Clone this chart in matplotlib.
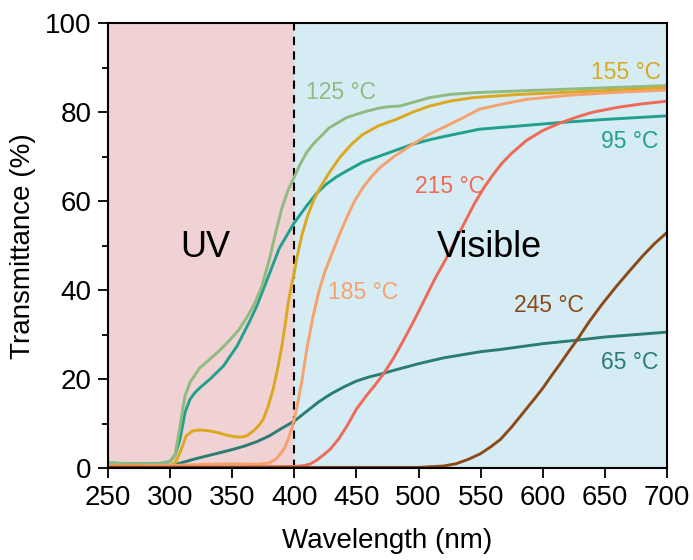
import matplotlib.pyplot as plt
from matplotlib.ticker import MultipleLocator

plt.rcParams['font.family'] = ['Liberation Sans', 'DejaVu Sans']

# 65 °C
wl_65 = [250, 280, 300, 305, 310, 320, 330, 340, 350, 360, 370, 380, 390, 400, 410, 420,
         430, 440, 450, 460, 470, 480, 500, 520, 550, 566, 600, 628, 650, 700]
t_65 = [0.4, 0.4, 0.5, 0.9, 1.3, 2.1, 2.8, 3.5, 4.2, 5.0, 6.0, 7.3, 9.0, 10.6, 12.8, 15.0,
        16.8, 18.3, 19.6, 20.5, 21.2, 22.0, 23.5, 24.8, 26.2, 26.7, 28.0, 28.8, 29.5, 30.6]

# 95 °C
wl_95 = [250, 270, 290, 300, 304, 308, 312, 316, 320, 324, 332, 343, 354, 364, 370, 378, 388,
         400, 410, 418, 426, 434, 442, 455, 469, 480, 495, 510, 523, 549, 580, 614, 650, 700]
t_95 = [1.2, 1.0, 1.0, 1.5, 3.0, 6.5, 12.5, 15.5, 17.0, 18.1, 20.0, 23.0, 27.5, 33.0, 36.6, 42.3, 49.5,
        55.2, 59.0, 61.8, 63.9, 65.5, 66.8, 68.8, 70.2, 71.3, 72.8, 73.9, 74.7, 76.2, 76.9, 77.7, 78.4, 79.2]

# 125 °C
wl_125 = [250, 270, 290, 300, 304, 308, 312, 316, 324, 332, 340, 348, 355, 362, 368, 374, 380, 385,
          390, 395, 400, 405, 410, 415, 428, 442, 455, 469, 478, 485, 495, 509, 525, 544, 580, 620,
          660, 700]
t_125 = [1.2, 1.0, 0.9, 1.5, 3.0, 9.5, 16.2, 19.3, 22.6, 24.5, 26.5, 28.8, 31.0, 34.0, 37.0, 41.0, 47.0,
         53.0, 58.5, 62.5, 65.5, 68.5, 71.0, 72.8, 76.5, 78.8, 80.0, 81.0, 81.3, 81.4, 82.2, 83.3, 84.0,
         84.4, 84.8, 85.2, 85.6, 86.0]

# 155 °C
wl_155 = [250, 280, 300, 304, 308, 313, 318, 324, 332, 340, 346, 352, 357, 362, 367, 372, 375, 379,
          383, 387, 390, 393, 395, 398, 400, 402, 406, 411, 416, 421, 429, 437, 446, 455, 468, 482,
          495, 509, 525, 544, 580, 620, 660, 700]
t_155 = [0.6, 0.6, 0.6, 1.2, 3.5, 7.3, 8.4, 8.6, 8.4, 7.9, 7.4, 7.1, 7.0, 7.3, 8.4, 9.8, 11.0, 14.0,
         17.8, 23.0, 27.5, 33.0, 37.0, 41.5, 44.0, 47.2, 52.3, 57.0, 60.5, 63.2, 66.8, 70.0, 72.8, 75.0,
         77.0, 78.4, 80.0, 81.4, 82.5, 83.3, 84.0, 84.5, 85.0, 85.5]

# 185 °C
wl_185 = [250, 300, 330, 350, 370, 380, 385, 389, 392, 395, 398, 400, 403, 406, 410, 415, 420, 425,
          430, 436, 442, 448, 455, 462, 469, 480, 493, 508, 523, 536, 549, 570, 587, 620, 660, 700]
t_185 = [0.5, 0.6, 0.9, 1.0, 0.9, 1.2, 2.0, 3.3, 4.5, 6.5, 9.0, 11.0, 15.0, 19.5, 26.7, 34.0, 40.0, 44.5,
         48.0, 52.3, 56.2, 59.8, 63.0, 65.5, 67.6, 70.0, 72.4, 75.0, 77.0, 78.8, 80.7, 82.0, 82.9, 83.8,
         84.5, 85.0]

# 215 °C
wl_215 = [250, 350, 400, 408, 413, 418, 423, 429, 436, 443, 450, 458, 465, 472, 480, 488, 496, 505,
          513, 522, 533, 545, 553, 560, 567, 575, 587, 600, 614, 627, 640, 660, 680, 700]
t_215 = [0.3, 0.3, 0.4, 0.6, 1.0, 1.8, 2.9, 4.3, 6.7, 9.8, 13.3, 16.3, 18.7, 21.3, 24.8, 28.8, 33.0, 38.0,
         42.5, 47.0, 53.0, 59.5, 63.2, 66.0, 68.5, 70.8, 73.7, 75.9, 77.6, 78.9, 80.0, 81.1, 81.9, 82.5]

# 245 °C
wl_245 = [250, 450, 500, 520, 530, 540, 550, 558, 566, 575, 584, 593, 600, 607, 614, 621, 628, 637,
          647, 659, 670, 680, 690, 700]
t_245 = [0.2, 0.2, 0.2, 0.5, 1.0, 2.0, 3.3, 4.8, 6.5, 9.3, 12.4, 15.5, 18.0, 20.8, 23.5, 26.3, 29.0, 32.8,
         36.6, 40.8, 44.4, 47.6, 50.5, 53.0]

series = [
    (wl_65, t_65, '#2b7c72', '65 °C', 693, 23.8, 'right'),
    (wl_95, t_95, '#21a08d', '95 °C', 693, 73.5, 'right'),
    (wl_125, t_125, '#8fbb80', '125 °C', 409.5, 84.5, 'left'),
    (wl_155, t_155, '#dba81f', '155 °C', 695, 88.9, 'right'),
    (wl_185, t_185, '#f7a26c', '185 °C', 427.5, 39.5, 'left'),
    (wl_215, t_215, '#ee6a55', '215 °C', 497.5, 63.3, 'left'),
    (wl_245, t_245, '#8c4a16', '245 °C', 576.5, 36.6, 'left'),
]

fig = plt.figure(figsize=(6.93, 5.6), dpi=100)
ax = fig.add_axes([0.1558, 0.1638, 0.8067, 0.7946])

ax.axvspan(250, 400, color='#f0d1d4', lw=0, zorder=0)
ax.axvspan(400, 700, color='#d5ecf5', lw=0, zorder=0)
ax.axvline(400, color='black', ls=(0, (4, 3)), lw=1.5, zorder=1)

for wl, t, c, lab, tx, ty, ha in series:
    ax.plot(wl, t, color=c, lw=2.1, zorder=2, solid_joinstyle='round')
    ax.text(tx, ty, lab, color=c, fontsize=16.5, ha=ha, va='center', zorder=3)

ax.text(328, 49.6, 'UV', fontsize=26, ha='center', va='center')
ax.text(557, 49.6, 'Visible', fontsize=26, ha='center', va='center')

ax.set_xlim(250, 700)
ax.set_ylim(0, 100)
ax.xaxis.set_major_locator(MultipleLocator(50))
ax.yaxis.set_major_locator(MultipleLocator(20))
ax.yaxis.set_minor_locator(MultipleLocator(10))
ax.tick_params(axis='both', which='major', direction='out', length=7, width=1.3,
               labelsize=20, pad=5)
ax.tick_params(axis='y', which='minor', direction='out', length=4, width=1.3)
for s in ax.spines.values():
    s.set_linewidth(1.5)

ax.set_xlabel('Wavelength (nm)', fontsize=20, labelpad=12)
ax.set_ylabel('Transmittance (%)', fontsize=20, labelpad=6)

fig.savefig('out.png', dpi=100)
